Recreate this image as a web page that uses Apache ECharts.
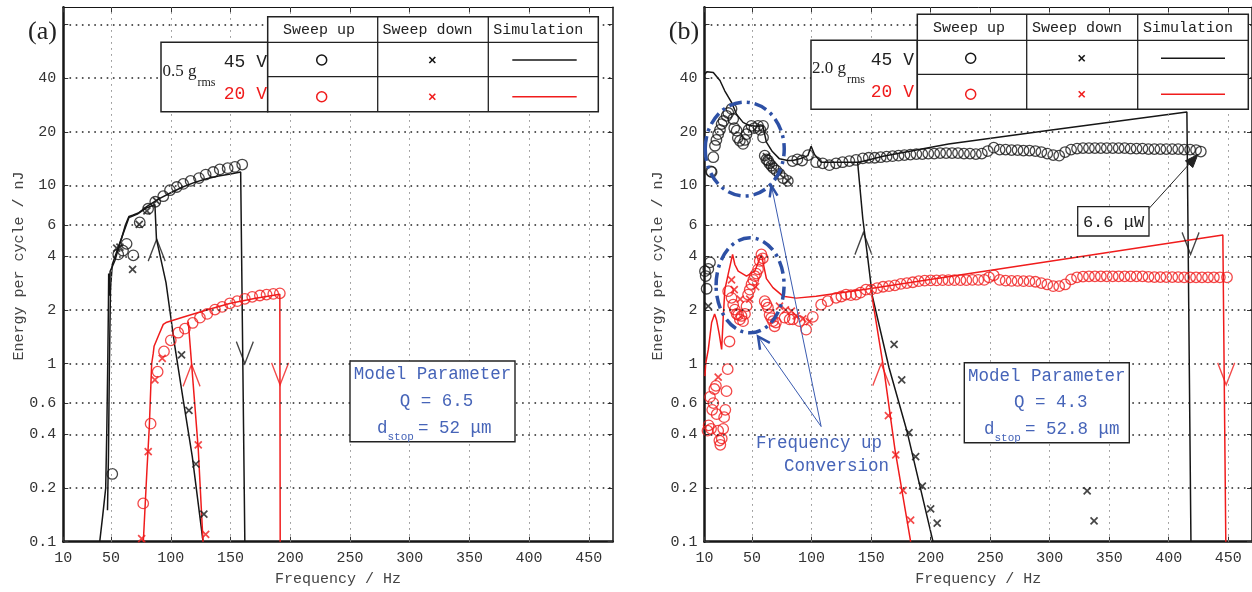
<!DOCTYPE html>
<html>
<head>
<meta charset="utf-8">
<script src="https://cdn.jsdelivr.net/npm/echarts@6/dist/echarts.min.js"></script>
<style>
html, body { margin: 0; padding: 0; background: #fff; }
#main { width: 1252px; height: 592px; }
</style>
</head>
<body>
<div id="main"></div>
<script>
// axis ticks
var xTicks = [10, 50, 100, 150, 200, 250, 300, 350, 400, 450]
var yLabels = [0.1, 0.2, 0.4, 0.6, 1, 2, 4, 6, 10, 20, 40]
var yTicks = [0.1, 0.2, 0.4, 0.6, 1, 2, 4, 6, 10, 20, 40, 80]

// ---- (a) 0.5 grms ----
var a45Up = [[51,0.24],[56,4.1],[60,4.3],[63,4.7],[68.6,4.05],[74,6.2],[81,7.4],[87,8.1],[93.7,8.7],[99.3,9.4],[105,9.8],[110.4,10.2],[116.6,10.6],[123.6,11.0],[129.2,11.5],[135.5,11.9],[141,12.3],[147.6,12.5],[153.7,12.7],[159.8,13.1]]
var a45Down = [[54.7,4.45],[57.4,4.5],[68,3.38],[73.6,6.05],[80,7.2],[88,8.2],[109,1.12],[115.2,0.546],[121,0.273],[127.7,0.143]]
var a20Up = [[76.9,0.164],[83.1,0.46],[89,0.9],[94.3,1.17],[100,1.35],[106.2,1.49],[111.8,1.57],[118.3,1.69],[124.4,1.81],[130.5,1.9],[137,2.01],[143,2.08],[149.5,2.18],[155.6,2.24],[162,2.31],[168.2,2.37],[174.6,2.41],[180.2,2.44],[185.8,2.46],[191.3,2.48]]
var a20Down = [[75.6,0.104],[81.1,0.32],[86.7,0.81],[92.8,1.07],[123,0.35],[129.2,0.11]]
var aSim45Up = [[40.5,0.1],[43,0.14],[45.5,0.2],[46.5,0.45],[47.3,1.1],[47.8,2.2],[48,3.2],[48.6,2.4],[49.2,3.3],[51,3.5],[53.3,3.8],[56,4.4],[59,5.1],[62,6.0],[65,6.7],[68,6.8],[72.8,7.0],[79.8,7.6],[85,8.0],[90,8.4],[100,9.1],[110,9.8],[120,10.4],[130,10.9],[140,11.3],[150,11.6],[158.5,11.9],[162,0.1]]
var aSim45Down = [[127,0.1],[118,0.3],[110,0.65],[103,1.3],[96,2.85],[88,5.0],[86.7,7.8],[80,7.5],[72,6.9],[65,6.6],[58,4.9],[51,3.6],[49.5,2.6],[48.6,1.0],[47.8,0.3],[47,0.15]]
var aSim20Up = [[77,0.1],[80,0.25],[82,0.44],[84,1.0],[85.3,1.14],[86,1.25],[90,1.45],[93.7,1.66],[96,1.7],[110,1.82],[130,2.0],[150,2.18],[170,2.32],[191.3,2.45],[191.6,0.1]]
var aSim20Down = [[127,0.1],[123,0.33],[120,0.6],[117.4,1.0],[115,1.6],[114.6,1.72]]
var aArrowsDown45 = [[162,1.0]]
var aArrowsUp45 = [[88.2,4.99]]
var aArrowsDown20 = [[191.5,0.76]]
var aArrowsUp20 = [[117.4,0.99]]

// ---- (b) 2.0 grms ----
var b45Up = [[10.4,3.3],[11,3.1],[11.8,2.63],[13.2,3.4],[14.6,3.7],
  [15.4,12],[16,11.9],[17.4,14.4],[18.8,16.7],[20,18],[21.5,19.4],[23,20.5],[24.4,22.1],[26,23],[28.6,24.6],[30,25.5],[32.7,26.9],[34.1,23.6],[35,21],[37,20.3],[38,18.5],[39.7,17.8],[42.4,17.1],[44,18],[45.3,19.4],[47,20.5],[49.5,21.6],[52,21],[55,21.6],[57,20.5],[59.2,21.6],[59.2,18.6],[60.6,14.7],[62,14],[63.3,13.8],[64.5,13.3],[66.2,12.9],[68,12.5],[70.4,12.1],[73.1,11.6],[76,11],[80,10.6],
  [84,13.7],[88,14.0],[92,13.8],[97,14.8],[103.8,13.5],[109.3,13.3],[114.9,13.0],[120.5,13.3],[126,13.5],[131.7,13.7],[137.3,13.9],
  [143,14.2],[148,14.3],[153,14.3],[158,14.4],[163,14.5],[168,14.6],[173,14.7],[178,14.8],[183,14.9],[188,15.0],[193,15.0],[198,15.1],[203,15.1],[208,15.2],[213,15.2],[218,15.2],[223,15.2],[228,15.1],[233,15.1],[238,15.0],[243,15.1],[248,15.6],[253,16.3],[258,15.9],[263,15.9],[268,15.8],[273,15.8],[278,15.7],[283,15.7],[288,15.6],[293,15.4],[298,15.1],[303,14.8],[308,14.7],[313,15.4],[318,15.9],[323,16.1],[328,16.2],[333,16.2],[338,16.2],[343,16.2],[348,16.2],[353,16.2],[358,16.2],[363,16.2],[368,16.1],[373,16.1],[378,16.1],[383,16.0],[388,16.0],[393,16.0],[398,16.0],[403,16.0],[408,16.0],[413,15.9],[418,15.9],[423,15.8],[427,15.5]]
var b45Down = [[13.2,2.1],[62,14.5],[66.2,12.9],[73.1,11.6],[80,10.6],[169.3,1.28],[175.7,0.81],[181.8,0.41],[187.4,0.3],[193,0.205],[200,0.153],[205.5,0.127],[331.5,0.193],[337.3,0.131]]
var b20Up = [[12.5,0.42],[13.5,0.45],[14.6,0.65],[15.5,0.43],[16.5,0.55],[17.4,0.6],[18.3,0.72],[19.6,0.75],[20.2,0.52],[21.5,0.42],[22.5,0.37],[23.3,0.35],[24.5,0.38],[25.7,0.43],[26.5,0.5],[27.5,0.55],[28.5,0.7],[29.5,0.93],[31,1.33],
  [29.9,2.55],[32.7,2.34],[34.1,2.14],[35.5,2.01],[37,1.9],[38.3,1.88],[39.7,1.77],[41.1,1.85],[42.4,1.73],[44,1.9],[45.3,2.1],[46.6,2.44],[48,2.6],[49.5,2.79],[51,2.95],[52.2,3.1],[53.5,3.2],[55,3.38],[56.4,3.77],[57.8,4.1],[59,3.9],
  [60.6,2.24],[62,2.15],[63.3,2.06],[64.7,1.88],[66,1.8],[67.5,1.73],[68.9,1.62],[70,1.7],[77.3,1.81],[81.5,1.77],[84.2,1.77],[89.8,1.73],[95.4,1.55],[101,1.83],[108,2.14],[113.5,2.24],[120.5,2.34],[125,2.38],[128.9,2.44],[133,2.42],[137.3,2.44],[141,2.5],[145.6,2.6],
  [150,2.6],[155,2.65],[160,2.7],[165,2.72],[170,2.75],[175,2.8],[180,2.83],[185,2.86],[190,2.9],[195,2.92],[200,2.93],[205,2.93],[210,2.94],[215,2.94],[220,2.94],[225,2.94],[230,2.94],[235,2.95],[240,2.95],[245,2.95],[249,3.05],[253,3.13],[258,2.95],[263,2.92],[268,2.91],[273,2.91],[278,2.9],[283,2.9],[288,2.88],[293,2.83],[298,2.78],[303,2.72],[308,2.72],[313,2.78],[318,2.97],[323,3.05],[328,3.08],[333,3.09],[338,3.09],[343,3.09],[348,3.09],[353,3.09],[358,3.09],[363,3.09],[368,3.09],[373,3.09],[378,3.09],[383,3.07],[388,3.06],[393,3.06],[398,3.06],[403,3.06],[408,3.06],[413,3.05],[418,3.05],[423,3.05],[428,3.05],[433,3.05],[438,3.05],[443,3.05],[449,3.05]]
var b20Down = [[21.5,0.84],[32.7,2.95],[35,2.6],[40,2.3],[48,2.3],[53,2.7],[73,2.1],[78,2.0],[83,1.97],[87,1.85],[92.6,1.78],[98,1.72],[164.5,0.51],[170.7,0.307],[176.8,0.194],[183.2,0.132]]
var bSim45Up = [[10,42],[12,43.5],[17.4,43],[20,41],[23,38.8],[27,34],[32.7,29.3],[37,25],[42.4,22.6],[48,21.6],[55,21.5],[59,21.6],[62,17.5],[67,15.5],[73,14.1],[80,13.8],[84.2,13.8],[90,14.1],[96.8,14.7],[99.6,16.6],[102.4,14.9],[108,13.5],[120,13.5],[140,13.5],[160,14.6],[215,17.1],[300,20.4],[415.3,25.8],[418.7,0.1]]
var bSim45Down = [[202,0.1],[180,0.42],[165,0.95],[151,2.4],[147,4.0],[143,6.5],[138.6,13.6]]
var bSim20Up = [[10.4,0.85],[11,1.0],[13.2,1.2],[16,1.7],[18.5,1.9],[20.2,1.75],[22.5,1.45],[24.4,1.2],[25.7,1.8],[27.1,2.6],[30,3.2],[33.6,4.1],[35.5,3.6],[38.3,3.3],[45.3,3.1],[52.2,3.3],[57.8,4.1],[62,3.0],[67.5,2.67],[75.9,2.39],[87,2.33],[103.8,2.39],[145.6,2.61],[445.5,5.27],[448,0.1]]
var bSim20Down = [[183.2,0.1],[170,0.33],[161.1,0.89],[149.8,2.6]]
var bArrowsDown45 = [[418.4,4.1]]
var bArrowsUp45 = [[143.5,5.44]]
var bArrowsDown20 = [[448.3,0.76]]
var bArrowsUp20 = [[158.5,1.0]]

var BLACK = '#161616'
var RED = '#f01c1c'
var BLUE_TXT = '#4664b8'
var BLUE = '#2d50a5'
var MONO = 'Liberation Mono'

var chart = echarts.init(document.getElementById('main'))

var crossPath = 'path://M0,0L10,10M10,0L0,10'
var downV = 'path://M0,0L8,22L16,0'
var upV = 'path://M0,22L8,0L16,22'

function lineS(data, color, g) {
  return { type: 'line', data: data, xAxisIndex: g * 2, yAxisIndex: g * 2, symbol: 'none',
    lineStyle: { color: color, width: 1.5 }, z: 3, silent: true }
}
function circleS(data, color, g) {
  return { type: 'scatter', data: data, xAxisIndex: g * 2, yAxisIndex: g * 2, symbol: 'circle', symbolSize: 10.5,
    itemStyle: { color: 'rgba(0,0,0,0)', borderColor: color, borderWidth: 1.3 }, z: 4, silent: true }
}
function crossS(data, color, g) {
  return { type: 'scatter', data: data, xAxisIndex: g * 2, yAxisIndex: g * 2, symbol: crossPath, symbolSize: 7,
    itemStyle: { color: 'rgba(0,0,0,0)', borderColor: color, borderWidth: 1.7 }, z: 4, silent: true }
}
function arrowS(data, color, g, up) {
  return { type: 'scatter', data: data, xAxisIndex: g * 2, yAxisIndex: g * 2, symbol: up ? upV : downV,
    symbolSize: [17, 22], symbolOffset: [0, up ? 11 : -11],
    itemStyle: { color: 'rgba(0,0,0,0)', borderColor: color, borderWidth: 1.5 }, z: 4, silent: true }
}
function gridLines(g) {
  var d = []
  yTicks.slice(1).forEach(function (v) {
    d.push({ yAxis: v, lineStyle: { color: '#222', width: 1.6, type: [1.6, 4.6] } })
  })
  xTicks.slice(1).forEach(function (v) {
    d.push({ xAxis: v, lineStyle: { color: '#8a8a8a', width: 1, type: [1.5, 4.5] } })
  })
  return { type: 'line', data: [], xAxisIndex: g * 2, yAxisIndex: g * 2, z: 1, silent: true,
    markLine: { silent: true, symbol: ['none', 'none'], label: { show: false }, animation: false, data: d } }
}
function xAx(g, top) {
  return {
    type: 'value', gridIndex: g, min: 10, max: 470, position: top ? 'top' : 'bottom',
    axisLine: { show: true, onZero: false, lineStyle: { color: BLACK, width: top ? 1 : 2.5 } },
    axisTick: { show: true, inside: true, length: 5, customValues: xTicks, lineStyle: { color: '#333' } },
    axisLabel: { show: !top, customValues: xTicks, margin: 9, color: '#333', fontFamily: MONO, fontSize: 15 },
    splitLine: { show: false },
    name: top ? '' : 'Frequency / Hz', nameLocation: 'middle', nameGap: 30,
    nameTextStyle: { color: '#444', fontFamily: MONO, fontSize: 15 }
  }
}
function yAx(g, right) {
  return {
    type: 'log', logBase: 10, gridIndex: g, min: 0.1, max: 100, position: right ? 'right' : 'left',
    axisLine: { show: true, onZero: false, lineStyle: { color: BLACK, width: right ? 1.5 : 2.5 } },
    axisTick: { show: true, inside: true, length: 5, customValues: yTicks, lineStyle: { color: '#333' } },
    axisLabel: { show: !right, customValues: yLabels, margin: 7, color: '#333', fontFamily: MONO, fontSize: 15,
      formatter: function (v) { return String(+Number(v).toPrecision(3)) } },
    splitLine: { show: false }, minorTick: { show: false }
  }
}

var option = {
  animation: false,
  backgroundColor: '#fff',
  grid: [
    { left: 63.3, top: 7.3, width: 549.4, height: 534.4 },
    { left: 704.5, top: 7.3, width: 549.4, height: 534.4 }
  ],
  xAxis: [xAx(0, false), xAx(0, true), xAx(1, false), xAx(1, true)],
  yAxis: [yAx(0, false), yAx(0, true), yAx(1, false), yAx(1, true)],
  series: [
    gridLines(0), gridLines(1),
    lineS(aSim45Up, BLACK, 0), lineS(aSim45Down, BLACK, 0),
    lineS(aSim20Up, RED, 0), lineS(aSim20Down, RED, 0),
    circleS(a45Up, BLACK, 0), crossS(a45Down, BLACK, 0),
    circleS(a20Up, RED, 0), crossS(a20Down, RED, 0),
    arrowS(aArrowsDown45, BLACK, 0, false), arrowS(aArrowsUp45, BLACK, 0, true),
    arrowS(aArrowsDown20, RED, 0, false), arrowS(aArrowsUp20, RED, 0, true),
    lineS(bSim45Up, BLACK, 1), lineS(bSim45Down, BLACK, 1),
    lineS(bSim20Up, RED, 1), lineS(bSim20Down, RED, 1),
    circleS(b45Up, BLACK, 1), crossS(b45Down, BLACK, 1),
    circleS(b20Up, RED, 1), crossS(b20Down, RED, 1),
    arrowS(bArrowsDown45, BLACK, 1, false), arrowS(bArrowsUp45, BLACK, 1, true),
    arrowS(bArrowsDown20, RED, 1, false), arrowS(bArrowsUp20, RED, 1, true)
  ]
}
chart.setOption(option)

// ---- annotations ----
function px(g, f, v) { return chart.convertToPixel({ gridIndex: g }, [f, v]) }
function txt(x, y, s, size, color, align, font) {
  return { type: 'text', x: x, y: y, z: 20, silent: true,
    style: { text: s, fontFamily: font || MONO, fontSize: size, fill: color || '#222', align: align || 'center', verticalAlign: 'middle' } }
}
function rect(x0, y0, x1, y1, lw) {
  return { type: 'rect', z: 15, silent: true, shape: { x: x0, y: y0, width: x1 - x0, height: y1 - y0 },
    style: { fill: '#fff', stroke: '#222', lineWidth: lw || 1.3 } }
}
function seg(x0, y0, x1, y1, color, lw) {
  return { type: 'line', z: 16, silent: true, shape: { x1: x0, y1: y0, x2: x1, y2: y1 },
    style: { stroke: color || '#222', lineWidth: lw || 1.3 } }
}
function head(p0, p1, len, w) {
  var a = Math.atan2(p1[1] - p0[1], p1[0] - p0[0])
  var c = Math.cos(a), s = Math.sin(a)
  return [[p1[0] - len * c + w * s, p1[1] - len * s - w * c], [p1[0], p1[1]], [p1[0] - len * c - w * s, p1[1] - len * s + w * c]]
}
function legendTable(t) {
  var g = []
  g.push(rect(t.bx0, t.y1, t.cols[0], t.y3, 1.5))
  g.push(rect(t.cols[0], t.y0, t.cols[3], t.y3, 1.5))
  g.push(seg(t.cols[0], t.y1, t.cols[3], t.y1))
  g.push(seg(t.cols[0], t.y2, t.cols[3], t.y2))
  g.push(seg(t.cols[1], t.y0, t.cols[1], t.y3))
  g.push(seg(t.cols[2], t.y0, t.cols[2], t.y3))
  var hy = (t.y0 + t.y1) / 2 + 1
  g.push(txt(t.hx[0], hy, 'Sweep up', 15))
  g.push(txt(t.hx[1], hy, 'Sweep down', 15))
  g.push(txt(t.hx[2], hy, 'Simulation', 15))
  ;[[t.r1, BLACK], [t.r2, RED]].forEach(function (r) {
    g.push({ type: 'circle', z: 17, silent: true, shape: { cx: t.sx[0], cy: r[0], r: 5 }, style: { fill: 'none', stroke: r[1], lineWidth: 1.5 } })
    g.push(seg(t.sx[1] - 3, r[0] - 3, t.sx[1] + 3, r[0] + 3, r[1], 1.6))
    g.push(seg(t.sx[1] - 3, r[0] + 3, t.sx[1] + 3, r[0] - 3, r[1], 1.6))
    g.push(seg(t.lx[0], r[0], t.lx[1], r[0], r[1], 1.5))
  })
  g.push(txt(t.gx, t.gy, t.g, 17, '#222', 'left', 'Liberation Serif'))
  g.push(txt(t.gx + 35, t.gy + 11, 'rms', 12, '#222', 'left', 'Liberation Serif'))
  g.push(txt(t.vx, t.r1 + 2, '45 V', 18, '#222', 'right'))
  g.push(txt(t.vx, t.r2 - 2, '20 V', 18, RED, 'right'))
  return g
}
function modelBox(b) {
  var g = []
  g.push(rect(b.x0, b.y0, b.x1, b.y1, 1.4))
  g.push(txt(b.cx, b.l1, 'Model Parameter', 17.5, BLUE_TXT))
  g.push(txt(b.cx + 4, b.l2, b.q, 17.5, BLUE_TXT))
  g.push(txt(b.dx, b.l3, 'd', 17.5, BLUE_TXT, 'left'))
  g.push(txt(b.dx + 10.5, b.l3 + 9, 'stop', 11, BLUE_TXT, 'left'))
  g.push(txt(b.dx + 41, b.l3, b.d, 17.5, BLUE_TXT, 'left'))
  return g
}

var gr = []
gr.push(txt(42.5, 32.5, '(a)', 26, '#222', 'center', 'Liberation Serif'))
gr.push(txt(684, 32, '(b)', 26, '#222', 'center', 'Liberation Serif'))
gr.push({ type: 'text', x: 19, y: 266, rotation: Math.PI / 2, z: 20, silent: true,
  style: { text: 'Energy per cycle / nJ', fontFamily: MONO, fontSize: 15, fill: '#444', align: 'center', verticalAlign: 'middle' } })
gr.push({ type: 'text', x: 658, y: 266, rotation: Math.PI / 2, z: 20, silent: true,
  style: { text: 'Energy per cycle / nJ', fontFamily: MONO, fontSize: 15, fill: '#444', align: 'center', verticalAlign: 'middle' } })

gr = gr.concat(legendTable({ bx0: 161, cols: [267.7, 377.7, 488.3, 598.3], y0: 16.7, y1: 42.3, y2: 76.7, y3: 111.7,
  hx: [319, 427.5, 538.3], sx: [321.7, 432.3], lx: [512.3, 576.7], r1: 60, r2: 96.7,
  g: '0.5 g', gx: 162.5, gy: 72, vx: 267 }))
gr = gr.concat(legendTable({ bx0: 811, cols: [917.3, 1026.7, 1137.7, 1248.3], y0: 14.3, y1: 40.3, y2: 74.3, y3: 109.3,
  hx: [969, 1077, 1188], sx: [970.7, 1081.7], lx: [1161, 1225], r1: 58.3, r2: 94.3,
  g: '2.0 g', gx: 812, gy: 68.5, vx: 914 }))

gr = gr.concat(modelBox({ x0: 350, y0: 361, x1: 515, y1: 441.7, cx: 432.5, l1: 374, l2: 401.5, l3: 428.5, q: 'Q = 6.5', dx: 377, d: '= 52 μm' }))
gr = gr.concat(modelBox({ x0: 964.3, y0: 362.7, x1: 1129.3, y1: 442.7, cx: 1046.8, l1: 376, l2: 402, l3: 429.5, q: 'Q = 4.3', dx: 984, d: '= 52.8 μm' }))

// 6.6 uW callout
var cA = [1149, 208.5], cB = px(1, 427, 15.5)
cB = [cB[0] - 3, cB[1] + 3]
gr.push(seg(cA[0], cA[1], cB[0], cB[1], '#222', 1))
gr.push({ type: 'polygon', z: 17, silent: true, shape: { points: head(cA, cB, 13, 5) }, style: { fill: '#222', stroke: '#222' } })
gr.push(rect(1077.7, 206.7, 1149, 236, 1.3))
gr.push(txt(1113.5, 222, '6.6 μW', 17, '#222'))

// frequency up conversion ellipses and arrows
var eU = px(1, 43.8, 16.0), eL = px(1, 48.3, 2.75)
gr.push({ type: 'ellipse', z: 12, silent: true, shape: { cx: eU[0], cy: eU[1], rx: 39.5, ry: 47 },
  style: { fill: 'none', stroke: BLUE, lineWidth: 3.5, lineDash: [13, 5, 3, 5] } })
gr.push({ type: 'ellipse', z: 12, silent: true, shape: { cx: eL[0], cy: eL[1], rx: 34, ry: 47.5 },
  style: { fill: 'none', stroke: BLUE, lineWidth: 3.5, lineDash: [13, 5, 3, 5] } })
var o = px(1, 108, 0.443), tU = px(1, 66.2, 9.96), tL = px(1, 55, 1.42)
gr.push(seg(o[0], o[1], tU[0], tU[1], '#3a5bb0', 1))
gr.push(seg(o[0], o[1], tL[0], tL[1], '#3a5bb0', 1))
gr.push({ type: 'polyline', z: 17, silent: true, shape: { points: head(o, tU, 11, 4) }, style: { fill: 'none', stroke: BLUE, lineWidth: 2.5 } })
gr.push({ type: 'polyline', z: 17, silent: true, shape: { points: head(o, tL, 12, 6) }, style: { fill: 'none', stroke: BLUE, lineWidth: 2.5 } })
gr.push(txt(819, 443, 'Frequency up', 17.5, BLUE_TXT))
gr.push(txt(836.5, 466, 'Conversion', 17.5, BLUE_TXT))

chart.setOption({ graphic: { elements: gr } })
</script>
</body>
</html>
